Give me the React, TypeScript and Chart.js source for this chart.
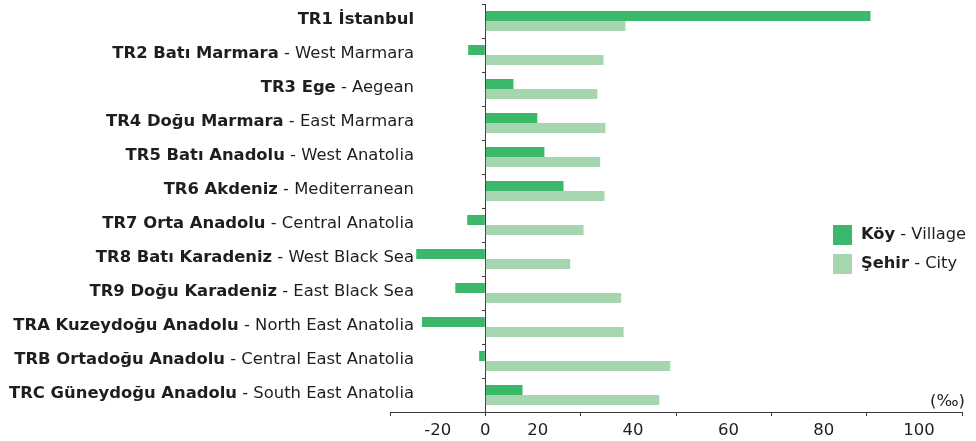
import React, { useEffect, useRef } from 'react';
import { Chart, registerables } from 'chart.js';

Chart.register(...registerables);

const regionNames = [
  'TR1 İstanbul',
  'TR2 Batı Marmara',
  'TR3 Ege',
  'TR4 Doğu Marmara',
  'TR5 Batı Anadolu',
  'TR6 Akdeniz',
  'TR7 Orta Anadolu',
  'TR8 Batı Karadeniz',
  'TR9 Doğu Karadeniz',
  'TRA Kuzeydoğu Anadolu',
  'TRB Ortadoğu Anadolu',
  'TRC Güneydoğu Anadolu',
];
const regionNamesEn = [
  '',
  'West Marmara',
  'Aegean',
  'East Marmara',
  'West Anatolia',
  'Mediterranean',
  'Central Anatolia',
  'West Black Sea',
  'East Black Sea',
  'North East Anatolia',
  'Central East Anatolia',
  'South East Anatolia',
];
const villageValues = [80.8, -3.6, 5.9, 10.9, 12.4, 16.4, -3.8, -14.5, -6.3, -13.3, -1.3, 7.8];
const cityValues = [29.4, 24.8, 23.5, 25.2, 24.1, 25.0, 20.6, 17.8, 28.5, 29.0, 38.8, 36.5];
const seriesNames = ['Köy', 'Şehir'];
const seriesNamesEn = ['Village', 'City'];
const xTickValues = [-20, 0, 20, 40, 60, 80, 100];
const unitLabel = '(‰)';

const VILLAGE_COLOR = 'rgb(60,184,106)';
const CITY_COLOR = 'rgb(165,214,175)';
const AXIS_COLOR = '#3a3a3a';
const TEXT_COLOR = '#1e1e1e';
const FONT = "'DejaVu Sans', Verdana, sans-serif";

const textPlugin = {
  id: 'customText',
  afterDraw(chart: any) {
    const ctx = chart.ctx as CanvasRenderingContext2D;
    const xs = chart.scales.x;
    const ys = chart.scales.y;
    ctx.save();
    ctx.fillStyle = TEXT_COLOR;
    ctx.textBaseline = 'middle';

    // category labels: bold Turkish + normal English
    const rightX = xs.left + 24;
    regionNames.forEach((name, i) => {
      const yy = ys.getPixelForValue(i) - 1;
      const en = regionNamesEn[i] ? ' - ' + regionNamesEn[i] : '';
      ctx.font = `16.4px ${FONT}`;
      const wN = en ? ctx.measureText(en).width : 0;
      ctx.textAlign = 'right';
      if (en) ctx.fillText(en, rightX, yy);
      ctx.font = `bold 16.4px ${FONT}`;
      ctx.fillText(name, rightX - wN, yy);
    });

    // x tick labels (placed between tick marks, "0" on the zero line)
    ctx.font = `16.5px ${FONT}`;
    ctx.textAlign = 'center';
    xTickValues.forEach((v) => {
      const pos = v === 0 ? 0 : v < 0 ? v + 10 : v - 9;
      ctx.fillText(String(v), xs.getPixelForValue(pos), xs.top + 19);
    });

    // unit label
    ctx.textAlign = 'right';
    ctx.font = `16.5px ${FONT}`;
    ctx.fillText(unitLabel, xs.right + 3, xs.top - 10);

    // legend
    const lx = 833;
    const ly = [225, 254];
    chart.data.datasets.forEach((ds: any, i: number) => {
      ctx.fillStyle = ds.backgroundColor;
      ctx.fillRect(lx, ly[i], 19, 20);
      ctx.fillStyle = TEXT_COLOR;
      ctx.textAlign = 'left';
      ctx.font = `bold 16.3px ${FONT}`;
      const b = seriesNames[i];
      ctx.fillText(b, lx + 28, ly[i] + 10);
      const wb = ctx.measureText(b).width;
      ctx.font = `16.3px ${FONT}`;
      ctx.fillText(' - ' + seriesNamesEn[i], lx + 28 + wb, ly[i] + 10);
    });
    ctx.restore();
  },
};

export default function App() {
  const ref = useRef<HTMLCanvasElement | null>(null);
  useEffect(() => {
    if (!ref.current) return;
    const chart = new Chart(ref.current, {
      type: 'bar',
      data: {
        labels: regionNames,
        datasets: [
          {
            label: seriesNames[0] + ' - ' + seriesNamesEn[0],
            data: villageValues,
            backgroundColor: VILLAGE_COLOR,
            borderWidth: 0,
            barPercentage: 1,
            categoryPercentage: 20 / 34,
          },
          {
            label: seriesNames[1] + ' - ' + seriesNamesEn[1],
            data: cityValues,
            backgroundColor: CITY_COLOR,
            borderWidth: 0,
            barPercentage: 1,
            categoryPercentage: 20 / 34,
          },
        ],
      },
      options: {
        indexAxis: 'y',
        responsive: true,
        maintainAspectRatio: false,
        animation: false,
        layout: { padding: { left: 390, right: 14, top: 4, bottom: 25 } },
        plugins: {
          legend: { display: false },
          tooltip: { enabled: false },
          title: { display: false },
        },
        scales: {
          x: {
            type: 'linear',
            position: 'bottom',
            min: -20,
            max: 100,
            ticks: { display: false, stepSize: 20 },
            grid: {
              display: true,
              drawOnChartArea: false,
              drawTicks: true,
              tickLength: 4,
              color: AXIS_COLOR,
            },
            border: { display: true, color: AXIS_COLOR, width: 1 },
          },
          y: {
            type: 'category',
            position: { x: 0 } as any,
            offset: true,
            ticks: { display: false },
            grid: {
              display: true,
              offset: true,
              drawOnChartArea: false,
              drawTicks: true,
              tickLength: 3,
              color: AXIS_COLOR,
            },
            border: { display: true, color: AXIS_COLOR, width: 1 },
          },
        },
      } as any,
      plugins: [textPlugin],
    });
    return () => chart.destroy();
  }, []);
  return (
    <div style={{ position: 'absolute', left: 0, top: 0, width: 976, height: 441, background: '#fff' }}>
      <canvas ref={ref} />
    </div>
  );
}
